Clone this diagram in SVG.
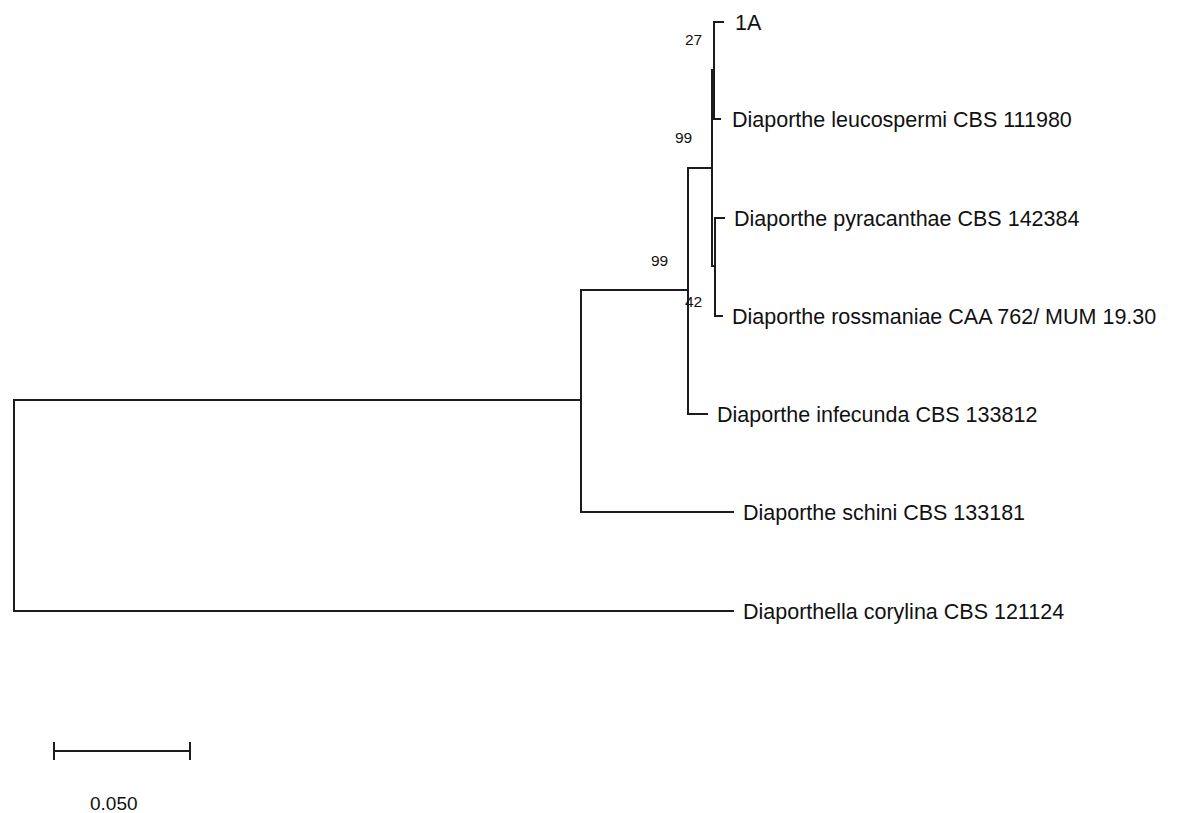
<svg xmlns="http://www.w3.org/2000/svg" width="1183" height="813" viewBox="0 0 1183 813">
<style>
.br{fill:none;stroke:#1c1c1c;stroke-width:2;stroke-linecap:square}
.lab{font-family:"Liberation Sans",Arial,sans-serif;font-size:21.5px;fill:#111}
.bs{font-family:"Liberation Sans",Arial,sans-serif;font-size:15.5px;fill:#111}
.sc{font-family:"Liberation Sans",Arial,sans-serif;font-size:19px;fill:#111}
</style>
<rect width="1183" height="813" fill="#ffffff"/>
<g id="connectors">
<path class="br" d="M14 400 H581 M14 400 V611 H733"/>
<path class="br" d="M581 290 V512 H733 M581 290 H688"/>
<path class="br" d="M688 168 V414 H707 M688 168 H712"/>
<path class="br" d="M712 70 V266 M712 70 H714 M712 266 H715"/>
<path class="br" d="M714 22 V119 M714 22 H723 M714 119 H720"/>
<path class="br" d="M715 218 V316 M715 218 H724 M715 316 H722"/>
</g>
<g id="bootstrap">
<text class="bs" x="685" y="45">27</text>
<text class="bs" x="675" y="143">99</text>
<text class="bs" x="651" y="266">99</text>
<text class="bs" x="685" y="307">42</text>
</g>
<g id="leaf-1A"><text class="lab" x="735" y="30">1A</text></g>
<g id="leaf-leucospermi"><text class="lab" x="732" y="127">Diaporthe leucospermi CBS 111980</text></g>
<g id="leaf-pyracanthae"><text class="lab" x="734" y="226">Diaporthe pyracanthae CBS 142384</text></g>
<g id="leaf-rossmaniae"><text class="lab" x="732" y="324">Diaporthe rossmaniae CAA 762/ MUM 19.30</text></g>
<g id="leaf-infecunda"><text class="lab" x="717" y="422">Diaporthe infecunda CBS 133812</text></g>
<g id="leaf-schini"><text class="lab" x="743" y="520">Diaporthe schini CBS 133181</text></g>
<g id="leaf-corylina"><text class="lab" x="743" y="619">Diaporthella corylina CBS 121124</text></g>
<g id="scale-bar">
<path class="br" d="M54 751 H190 M54 743 V759 M190 743 V759"/>
<text class="sc" x="90" y="810">0.050</text>
</g>
</svg>
